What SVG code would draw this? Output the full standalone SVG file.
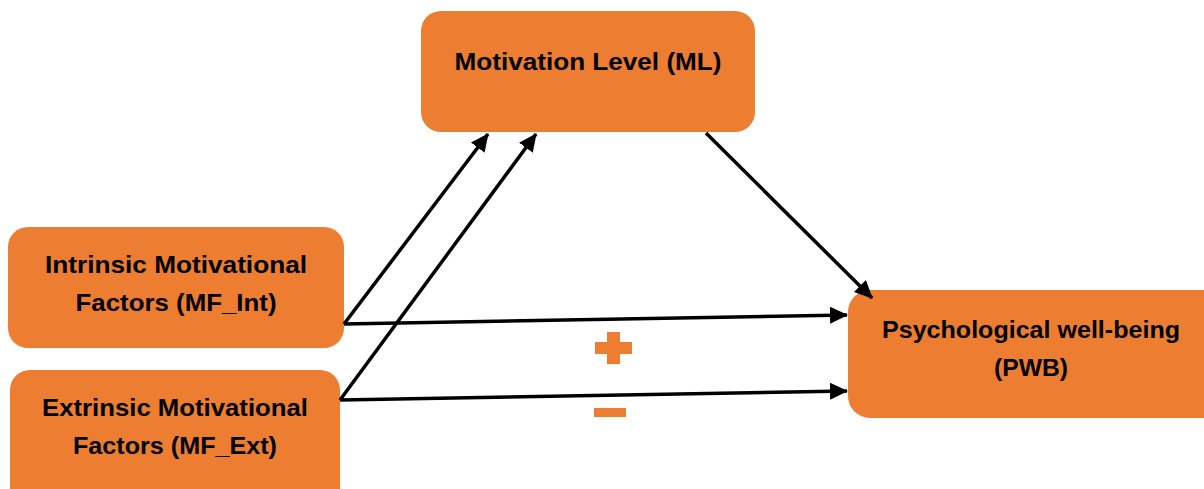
<svg xmlns="http://www.w3.org/2000/svg" width="1204" height="489" viewBox="0 0 1204 489">
  <style>
    .box { fill: #ED7D31; }
    .lbl { font-family: "Liberation Sans", Arial, sans-serif; font-weight: bold; font-size: 24px; fill: #000; text-anchor: middle; }
    .edge { stroke: #000; stroke-width: 3.5; fill: none; marker-end: url(#head); }
    .sign { fill: #ED7D31; }
  </style>
  <defs>
    <!-- solid triangular arrowhead, sized in user units -->
    <marker id="head" viewBox="0 0 18 17" refX="17" refY="8.5" markerWidth="18" markerHeight="17" orient="auto" markerUnits="userSpaceOnUse">
      <path d="M0,0 L18,8.5 L0,17 z" fill="#000"/>
    </marker>
  </defs>

  <g id="node-ml">
    <rect class="box" x="421" y="11" width="334" height="121" rx="20"/>
    <text class="lbl" x="588" y="70" textLength="267" lengthAdjust="spacingAndGlyphs">Motivation Level (ML)</text>
  </g>

  <g id="node-mf-int">
    <rect class="box" x="8" y="227" width="336" height="121" rx="20"/>
    <text class="lbl" x="176" y="273" textLength="262" lengthAdjust="spacingAndGlyphs">Intrinsic Motivational</text>
    <text class="lbl" x="176" y="311" textLength="201" lengthAdjust="spacingAndGlyphs">Factors (MF_Int)</text>
  </g>

  <g id="node-mf-ext">
    <rect class="box" x="10" y="370" width="330" height="140" rx="20"/>
    <text class="lbl" x="175" y="416" textLength="266" lengthAdjust="spacingAndGlyphs">Extrinsic Motivational</text>
    <text class="lbl" x="175" y="454" textLength="204" lengthAdjust="spacingAndGlyphs">Factors (MF_Ext)</text>
  </g>

  <g id="node-pwb">
    <rect class="box" x="848" y="290" width="380" height="128" rx="22"/>
    <text class="lbl" x="1031" y="338" textLength="298" lengthAdjust="spacingAndGlyphs">Psychological well-being</text>
    <text class="lbl" x="1031" y="376" textLength="74" lengthAdjust="spacingAndGlyphs">(PWB)</text>
  </g>

  <g id="connectors">
    <line class="edge" x1="344" y1="324" x2="488" y2="134"/>
    <line class="edge" x1="340" y1="400" x2="536" y2="134"/>
    <line class="edge" x1="344" y1="324" x2="847" y2="315"/>
    <line class="edge" x1="340" y1="400" x2="847" y2="391"/>
    <line class="edge" x1="706" y1="133" x2="872" y2="298"/>
  </g>

  <g id="signs">
    <rect class="sign" x="595" y="342" width="37" height="12"/>
    <rect class="sign" x="607" y="332" width="13" height="32"/>
    <rect class="sign" x="594" y="408" width="32" height="9"/>
  </g>
</svg>
